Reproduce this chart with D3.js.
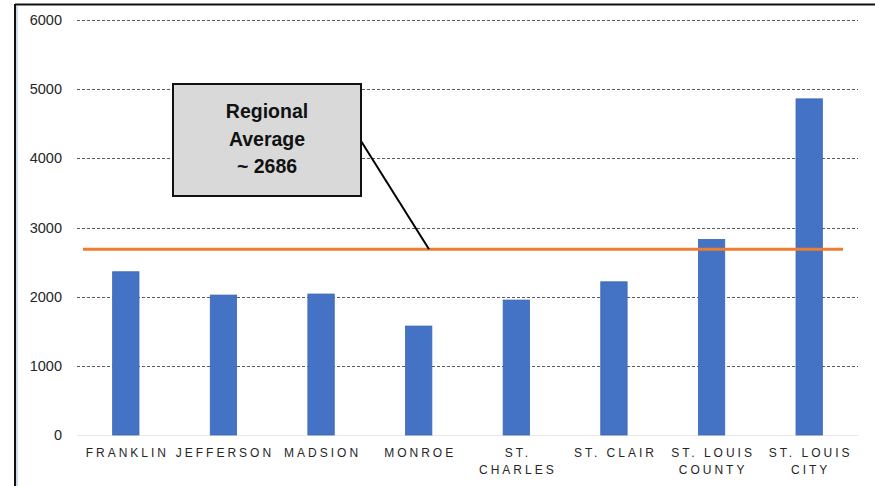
<!DOCTYPE html>
<html>
<head>
<meta charset="utf-8">
<script src="https://cdn.jsdelivr.net/npm/d3@7/dist/d3.min.js"></script>
<style>
  html, body { margin: 0; padding: 0; background: #fff; }
  svg { display: block; }
</style>
</head>
<body>
<svg id="chart" width="875" height="486"></svg>
<script>
// County names (label lines) and values
const counties = ["FRANKLIN", "JEFFERSON", "MADSION", "MONROE", "ST. CHARLES", "ST. CLAIR", "ST. LOUIS COUNTY", "ST. LOUIS CITY"];
const countyLines = [["FRANKLIN"], ["JEFFERSON"], ["MADSION"], ["MONROE"], ["ST.", "CHARLES"], ["ST. CLAIR"], ["ST. LOUIS", "COUNTY"], ["ST. LOUIS", "CITY"]];
const values = [2360, 2023, 2038, 1575, 1951, 2215, 2828, 4860];
const yTicks = [0, 1000, 2000, 3000, 4000, 5000, 6000];
const regionalAverage = 2686;
const calloutLines = ["Regional", "Average", "~ 2686"];

const svg = d3.select("#chart");

// frame around the chart area
svg.append("line").attr("x1", 15).attr("x2", 875).attr("y1", 4.5).attr("y2", 4.5)
  .attr("stroke", "#111").attr("stroke-width", 2);
svg.append("line").attr("x1", 15).attr("x2", 15).attr("y1", 4).attr("y2", 486)
  .attr("stroke", "#111").attr("stroke-width", 2);
svg.append("line").attr("x1", 17).attr("x2", 17).attr("y1", 6).attr("y2", 486)
  .attr("stroke", "#9db7e0").attr("stroke-width", 1);

const x = d3.scaleBand().domain(counties).range([77, 858]).paddingInner(0.73).paddingOuter(0.365);
const y = d3.scaleLinear().domain([0, 6000]).range([435, 20]);

// horizontal gridlines
svg.append("g").selectAll("line")
  .data(yTicks.filter(d => d > 0))
  .join("line")
  .attr("x1", 77).attr("x2", 858)
  .attr("y1", d => Math.round(y(d)) + 0.5).attr("y2", d => Math.round(y(d)) + 0.5)
  .attr("stroke", "#5a5a5a").attr("stroke-width", 1).attr("stroke-dasharray", "3,2");

// baseline
svg.append("line").attr("x1", 77).attr("x2", 858)
  .attr("y1", Math.round(y(0)) + 0.5).attr("y2", Math.round(y(0)) + 0.5)
  .attr("stroke", "#e8e8e8").attr("stroke-width", 1);

// y axis tick labels
const yAxis = d3.axisLeft(y).tickValues(yTicks).tickSize(0).tickPadding(0).tickFormat(d3.format("d"));
const gy = svg.append("g").attr("transform", "translate(62,0)").call(yAxis);
gy.select(".domain").remove();
gy.selectAll("text")
  .attr("font-family", "'Liberation Sans', Arial, sans-serif")
  .attr("font-size", 14.5)
  .attr("fill", "#262626");

// bars
svg.append("g").selectAll("rect")
  .data(values)
  .join("rect")
  .attr("x", (d, i) => x(counties[i]))
  .attr("width", x.bandwidth())
  .attr("y", d => y(d))
  .attr("height", d => y(0) - y(d))
  .attr("fill", "#4472c4")
  .attr("stroke", "#3d67b5")
  .attr("stroke-width", 0.8);

// category labels
const xl = svg.append("g");
countyLines.forEach((lines, i) => {
  const cx = x(counties[i]) + x.bandwidth() / 2;
  lines.forEach((t, j) => {
    xl.append("text")
      .attr("x", cx + 1.5)
      .attr("y", 457 + j * 17)
      .attr("text-anchor", "middle")
      .attr("font-family", "'Liberation Sans', Arial, sans-serif")
      .attr("font-size", 12)
      .attr("letter-spacing", "3px")
      .attr("fill", "#262626")
      .text(t);
  });
});

// regional average line
svg.append("line")
  .attr("x1", 83).attr("x2", 843)
  .attr("y1", y(regionalAverage)).attr("y2", y(regionalAverage))
  .attr("stroke", "#ed7d31").attr("stroke-width", 3);

// callout connector
svg.append("line")
  .attr("x1", 361).attr("y1", 141)
  .attr("x2", 429).attr("y2", y(regionalAverage))
  .attr("stroke", "#000").attr("stroke-width", 2);

// callout box
svg.append("rect")
  .attr("x", 173).attr("y", 84).attr("width", 188).attr("height", 112)
  .attr("fill", "#d9d9d9").attr("stroke", "#111").attr("stroke-width", 2);

svg.append("g").selectAll("text")
  .data(calloutLines)
  .join("text")
  .attr("x", 267)
  .attr("y", (d, i) => 118 + i * 27.5)
  .attr("text-anchor", "middle")
  .attr("font-family", "'Liberation Sans', Arial, sans-serif")
  .attr("font-weight", "bold")
  .attr("font-size", 19.5)
  .attr("fill", "#111")
  .text(d => d);
</script>
</body>
</html>
